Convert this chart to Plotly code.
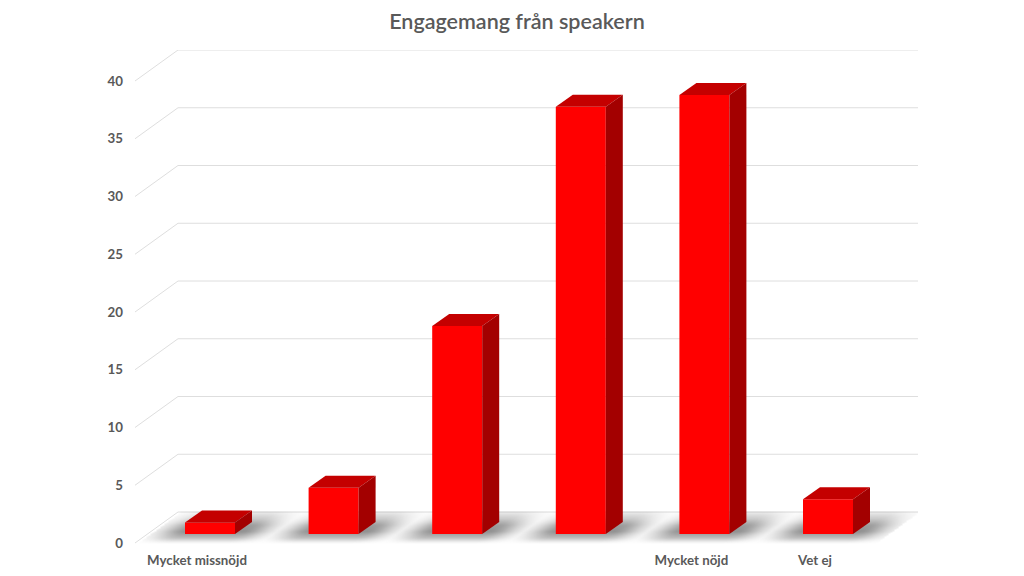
import numpy as np
import plotly.graph_objects as go

# ---- data ----
categories = ["Mycket missnöjd", "", "", "", "Mycket nöjd", "Vet ej"]
values = [1, 4, 18, 37, 38, 3]
y_ticks = [0, 5, 10, 15, 20, 25, 30, 35, 40]
title_text = "Engagemang från speakern"

# ---- pixel geometry of the pseudo-3D projection, expressed in axis units ----
PX_X = 123.6            # px per category
PX_Y = 11.55            # px per value unit
L, R, T, B = 135, 918, 50, 545
ZERO_PX = 197           # px of category 0 tick
ZERO_PY = 543           # px of value 0 on the front edge
FLOOR_DX, FLOOR_DY = 43 / PX_X, 31 / PX_Y     # front edge -> back wall
BAR_W = 50 / PX_X
BAR_OX, BAR_OY = 13 / PX_X, 9 / PX_Y          # bar front offset from the front edge
BAR_DX, BAR_DY = 17 / PX_X, 12 / PX_Y         # bar depth

x_range = [(L - ZERO_PX) / PX_X, (R - ZERO_PX) / PX_X]
y_range = [(ZERO_PY - B) / PX_Y, (ZERO_PY - T) / PX_Y]
xs = list(range(len(values)))

FRONT, TOP, SIDE = "#ff0000", "#c40000", "#a30000"

# ---- floor shadow ----
px = np.arange(L, R + 1, 2.0)
py = np.arange(ZERO_PY - 31, ZERO_PY + 1, 1.0)
PXG, PYG = np.meshgrid(px, py)
d = (ZERO_PY - PYG) / 31
u = PXG - d * 43
shade = np.zeros_like(PXG)
for i in xs:
    gap = np.clip(np.abs(u - (ZERO_PX + i * PX_X)) - 26, 0, None)
    shade = np.maximum(shade, np.exp(-(gap / 26) ** 2))
profile = np.interp(d, [0, 0.06, 0.2, 0.4, 0.6, 0.8, 1.0], [0, 0.12, 0.6, 1, 0.9, 0.5, 0.22])
shade = shade * profile
shade[u < L + 2] = 0
shade[u > R - 43] = 0

traces = [go.Heatmap(
    x=(px - ZERO_PX) / PX_X, y=(ZERO_PY - py) / PX_Y, z=shade, zmin=0, zmax=1,
    zsmooth="best", showscale=False, hoverinfo="skip",
    colorscale=[[0, "rgba(125,125,125,0)"], [1, "rgba(125,125,125,0.85)"]],
)]

# ---- bars: real bar trace for the front faces ----
traces.append(go.Bar(
    x=[i + BAR_OX for i in xs], y=values, base=[BAR_OY] * len(values), width=BAR_W,
    marker=dict(color=FRONT, line=dict(width=0)), hoverinfo="skip",
))

# ---- top and side faces, derived from the same values ----
for i, v in zip(xs, values):
    x0 = i + BAR_OX - BAR_W / 2
    x1 = i + BAR_OX + BAR_W / 2
    y0 = BAR_OY
    y1 = BAR_OY + v
    traces.append(go.Scatter(
        x=[x0, x0 + BAR_DX, x1 + BAR_DX, x1, x0],
        y=[y1, y1 + BAR_DY, y1 + BAR_DY, y1, y1],
        mode="lines", fill="toself", fillcolor=TOP, line=dict(width=0),
        hoverinfo="skip"))
    traces.append(go.Scatter(
        x=[x1, x1 + BAR_DX, x1 + BAR_DX, x1, x1],
        y=[y0, y0 + BAR_DY, y1 + BAR_DY, y1, y0],
        mode="lines", fill="toself", fillcolor=SIDE, line=dict(width=0),
        hoverinfo="skip"))

# ---- projected gridlines ----
shapes = []
grid_line = dict(color="#dedede", width=1)
for t in y_ticks:
    shapes.append(dict(type="line", layer="below", xref="x", yref="y", line=grid_line,
                       x0=x_range[0], y0=t, x1=x_range[0] + FLOOR_DX, y1=t + FLOOR_DY))
    shapes.append(dict(type="line", layer="below", xref="x", yref="y", line=grid_line,
                       x0=x_range[0] + FLOOR_DX, y0=t + FLOOR_DY, x1=x_range[1], y1=t + FLOOR_DY))

fig = go.Figure(traces)
fig.update_layout(
    width=1024, height=576, autosize=False,
    margin=dict(l=L, r=1024 - R, t=T, b=576 - B, pad=0, autoexpand=False),
    paper_bgcolor="white", plot_bgcolor="rgba(0,0,0,0)",
    showlegend=False, shapes=shapes,
    font=dict(family="Lato", color="#595959"),
    title=dict(text=title_text, x=517 / 1024, xanchor="center", y=1 - 21 / 576, yanchor="middle",
               yref="container", font=dict(family="Lato", size=21.5, weight=600, color="#595959")),
    xaxis=dict(range=x_range, tickmode="array", tickvals=xs, ticktext=categories,
               showgrid=False, zeroline=False, showline=False, ticks="", automargin=False,
               ticklabelstandoff=6, tickfont=dict(family="Lato", size=13.3, weight=700, color="#595959")),
    yaxis=dict(range=y_range, tickmode="array", tickvals=y_ticks,
               showgrid=False, zeroline=False, showline=False, ticks="", automargin=False,
               ticklabelstandoff=11, tickfont=dict(family="Lato", size=13.3, weight=700, color="#595959")),
)
fig.write_html("out.html", config=dict(displayModeBar=False),
               post_script="document.body.style.margin='0';document.documentElement.style.overflow='hidden';")
